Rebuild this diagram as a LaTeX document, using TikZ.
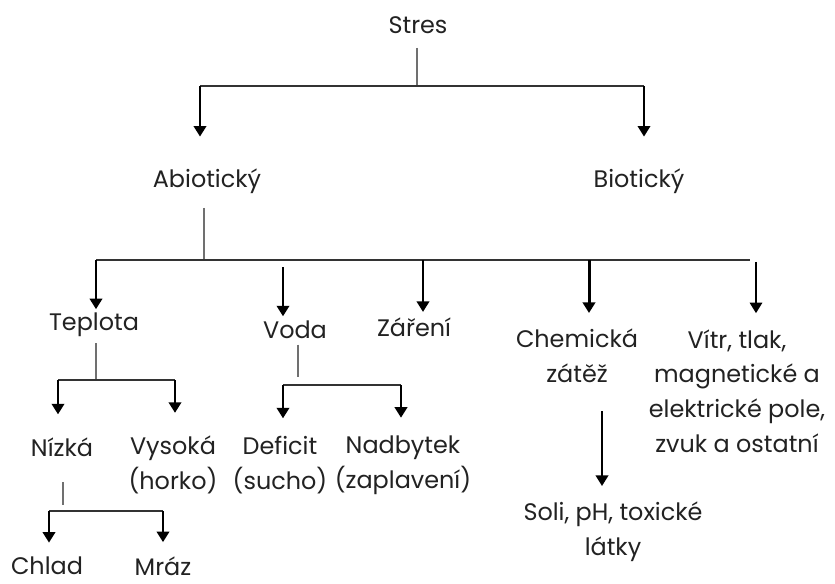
\documentclass[tikz,border=0pt]{standalone}
\usepackage{fontspec}
\setmainfont{Poppins}
\usetikzlibrary{arrows.meta}
\usetikzlibrary{positioning}
\tikzset{>={Triangle[length=6pt,width=7pt]}}
\definecolor{txt}{HTML}{222222}
\definecolor{busgray}{HTML}{333333}
\definecolor{stubgray}{HTML}{707070}

\begin{document}
\begin{tikzpicture}[x=0.02cm, y=-0.02cm,
    every node/.style={inner sep=0pt, align=center, text=txt,
      font=\fontsize{13.6}{19.8}\selectfont},
    bus/.style={line width=0.9pt, draw=busgray},
    stub/.style={line width=0.8pt, draw=stubgray},
    arr/.style={->, line width=1.7pt, shorten >=#1},
    arr/.default=0pt]
    \useasboundingbox[fill=white] (0,0) rectangle (835,583);

    % Draw the labels.
    \node (stres) at (418,25) {Stres};
    \node (abio) at (207,181) {Abiotický};
    \node (bio) at (639,181) {Biotický};
    \node (tepl) at (94,325) {Teplota};
    \node (voda) at (295,330) {Voda};
    \node (zar) at (414,327) {Záření};
    \node (chem) at (577,356) {Chemická\\zátěž};
    \node (vitr) at (737,391) {Vítr, tlak,\\magnetické a\\elektrické pole,\\zvuk a ostatní};
    \node (nizka) at (62,447) {Nízká};
    \node (vysoka) at (173,465) {Vysoká\\(horko)};
    \node (deficit) at (280,465) {Deficit\\(sucho)};
    \node (nadbytek) at (403,465) {Nadbytek\\(zaplavení)};
    \node (soli) at (613,532) {Soli, pH, toxické\\látky};
    \node (chlad) at (47,566) {Chlad};
    \node (mraz) at (163,566) {Mráz};

    % Draw the first split.
    \coordinate (sJ) at (417,86);
    \coordinate (sL) at (200,86);
    \coordinate (sR) at (644,86);
    \draw[stub, shorten <=8pt] (sJ |- stres.south) -- (sJ);
    \draw[bus] (sL) -- (sR);
    \draw[arr=18pt] (sL) -- (sL |- abio.north);
    \draw[arr=18pt, line width=1.4pt] (sR) -- (sR |- bio.north);

    % Draw the abiotic split.
    \coordinate (aJ) at (204,260);
    \coordinate (aT) at (96,260);
    \coordinate (aV) at (283,260);
    \coordinate (aZ) at (423,260);
    \coordinate (aC) at (589,260);
    \coordinate (aW) at (756,260);
    \coordinate (aE) at (750,260);
    \draw[stub, shorten <=8pt] (aJ |- abio.south) -- (aJ);
    \draw[bus] (aT) -- (aE);
    \draw[arr=2pt] (aT) -- (aT |- tepl.north);
    \draw[arr=2.5pt, shorten <=4pt] (aV) -- (aV |- voda.north);
    \draw[arr=3pt] (aZ) -- (aZ |- zar.north);
    \draw[arr=9pt] (aC) -- (aC |- chem.north);
    \draw[arr=9pt, line width=1.2pt, shorten <=1pt] (aW) -- (aW |- vitr.north);

    % Draw the temperature split.
    \coordinate (tJ) at (96,380);
    \coordinate (tL) at (58,380);
    \coordinate (tR) at (175,380);
    \draw[stub, shorten <=3.5pt] (tJ |- tepl.south) -- (tJ);
    \draw[bus] (tL) -- (tR);
    \draw[arr=13pt] (tL) -- (tL |- nizka.north);
    \draw[arr=13pt] (tR) -- (tR |- vysoka.north);

    % Draw the water split.
    \coordinate (vJ) at (298,385);
    \coordinate (vL) at (283,385);
    \coordinate (vR) at (401,385);
    \draw[stub, shorten <=3pt, shorten >=4.5pt] (vJ |- voda.south) -- (vJ);
    \draw[bus] (vL) -- (vR);
    \draw[arr=10pt] (vL) -- (vL |- deficit.north);
    \draw[arr=10pt] (vR) -- (vR |- nadbytek.north);

    % Draw the cold split.
    \coordinate (nJ) at (63,511);
    \coordinate (nL) at (49,511);
    \coordinate (nR) at (163,511);
    \draw[stub, shorten <=14.5pt, shorten >=3.4pt] (nJ |- nizka.south) -- (nJ);
    \draw[bus] (nL) -- (nR);
    \draw[arr=8pt] (nL) -- (nL |- chlad.north);
    \draw[arr=8pt] (nR) -- (nR |- mraz.north);

    % Draw the chemical arrow.
    \coordinate (cX) at (602,412);
    \draw[arr=9pt, line width=1.4pt, shorten <=16pt] (cX |- chem.south) -- (cX |- soli.north);
\end{tikzpicture}
\end{document}
